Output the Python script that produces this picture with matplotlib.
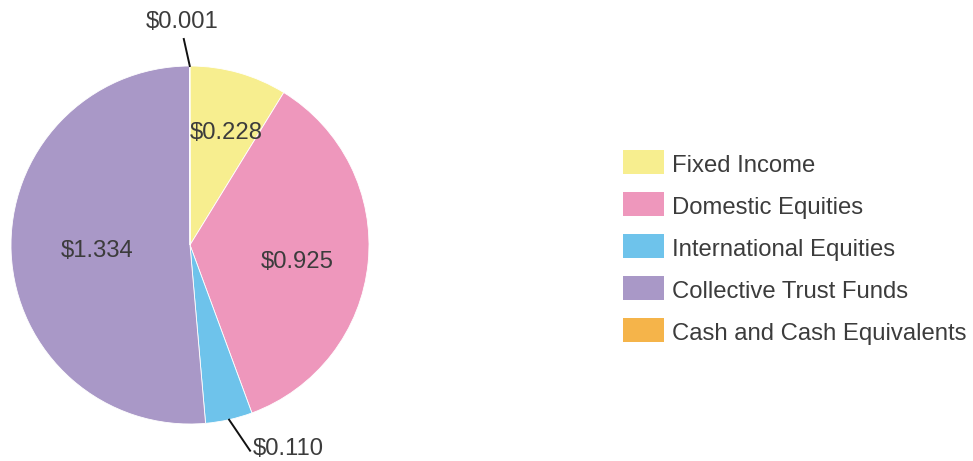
import matplotlib
matplotlib.use("Agg")
import matplotlib.pyplot as plt
from matplotlib.patches import Rectangle
import numpy as np

categories = ["Fixed Income", "Domestic Equities", "International Equities",
              "Collective Trust Funds", "Cash and Cash Equivalents"]
values = [0.228, 0.925, 0.110, 1.334, 0.001]
labels = ["$0.228", "$0.925", "$0.110", "$1.334", "$0.001"]
colors = ["#F7EE8F", "#EE97BC", "#6EC3EB", "#A998C7", "#F5B44A"]

plt.rcParams['font.family'] = ['Liberation Sans', 'DejaVu Sans']
TXT = "#3c3c3c"
FS = 17.2
HALF_CAP = 8.3  # px, half cap-height, to centre digits vertically

W, H = 973, 461
fig = plt.figure(figsize=(W / 100, H / 100), dpi=100)
ax = fig.add_axes([0, 0, 1, 1])

cx, cy, R = 190, H - 245, 179
wedges, _ = ax.pie(values, colors=colors, startangle=90, counterclock=False,
                   center=(cx, cy), radius=R,
                   wedgeprops=dict(edgecolor="white", linewidth=0.6))
ax.set_xlim(0, W)
ax.set_ylim(0, H)
ax.set_aspect("equal")
ax.axis("off")


def ctext(x, y, s, ha="center"):
    ax.text(x, y - HALF_CAP, s, ha=ha, va="baseline", fontsize=FS, color=TXT)


# inside labels (radial fraction, angular nudge in degrees)
inside = {0: (0.67, 2.0), 1: (0.606, 2.0), 3: (0.52, 0.0)}
total = sum(values)
cum = np.cumsum([0] + values)
for i, (frac, nudge) in inside.items():
    mid = (cum[i] + values[i] / 2) / total * 360 + nudge
    a = np.deg2rad(90 - mid)
    ctext(cx + frac * R * np.cos(a), cy + frac * R * np.sin(a), labels[i])

# outside label: International Equities
i = 2
mid = (cum[i] + values[i] / 2) / total * 360
a = np.deg2rad(90 - mid)
x0, y0 = cx + R * np.cos(a), cy + R * np.sin(a)
x1, y1 = x0 + 21, y0 - 31
ax.plot([x0, x1], [y0, y1], color="#111111", lw=1.4)
ctext(x1 + 3, y1 + 4, labels[i], ha="left")

# outside label: Cash
i = 4
mid = (cum[i] + values[i] / 2) / total * 360
a = np.deg2rad(90 - mid)
x0, y0 = cx + R * np.cos(a), cy + R * np.sin(a)
x1, y1 = x0 - 6, y0 + 27
ax.plot([x0, x1], [y0, y1], color="#111111", lw=1.4)
ctext(x1 - 2, y1 + 19.5, labels[i])

# legend
lx, ly0, dy = 623, H - 162, -42
for k, (cat, col) in enumerate(zip(categories, colors)):
    y = ly0 + k * dy
    ax.add_patch(Rectangle((lx, y - 12), 41, 24, facecolor=col, edgecolor="none"))
    ctext(lx + 49, y - 1.5, cat, ha="left")

fig.savefig("out.png", dpi=100)
